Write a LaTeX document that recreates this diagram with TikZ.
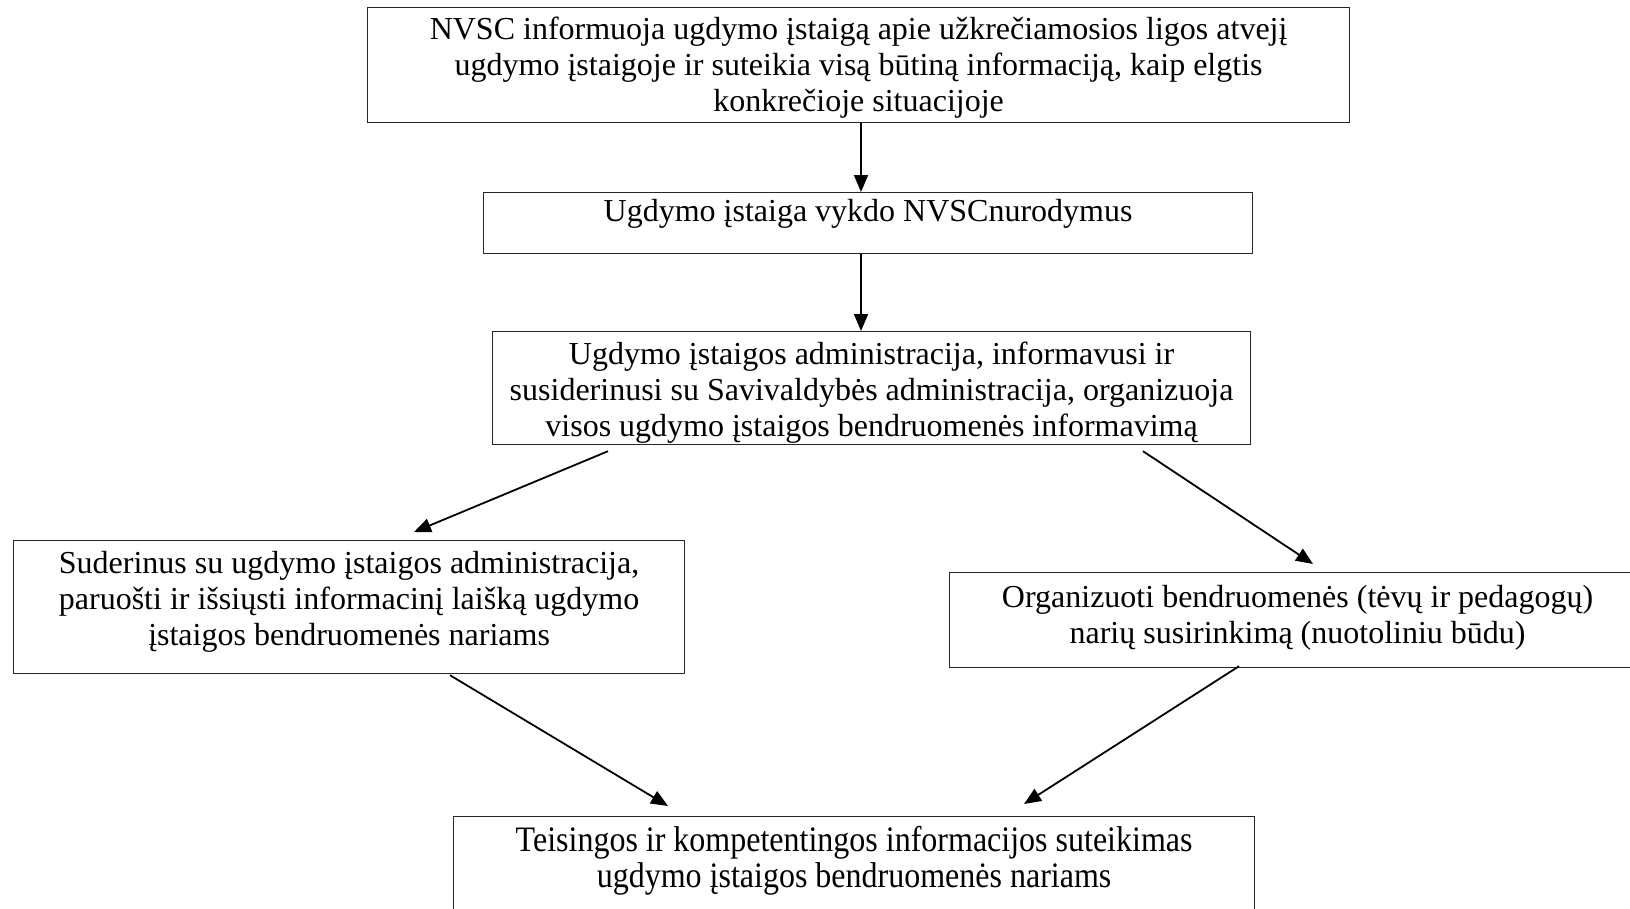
\documentclass[tikz,border=0pt]{standalone}
\usepackage{fontspec}
\usepackage{graphicx}
\setmainfont{Liberation Serif}
\usetikzlibrary{arrows.meta,calc}
\newcommand{\bxt}[4]{\begin{minipage}[c][#2pt][t]{#1pt}\vspace*{#3pt}\centering\strut #4\end{minipage}}
\tikzset{
  box/.style={draw=black!85, line width=1.2pt, inner sep=0pt, anchor=north west, fill=white,
    font=\fontsize{32}{36}\selectfont},
  arr/.style={line width=1.8pt, -{Triangle[length=17pt,width=14pt]}}
}
\begin{document}
\begin{tikzpicture}[x=1pt,y=-1pt]
\useasboundingbox[fill=white] (0,0) rectangle (1630,908);
\node[box] (b1) at (367,7) {\bxt{982}{115}{6.5}{NVSC informuoja ugdymo įstaigą apie užkrečiamosios ligos atvejį\\ ugdymo įstaigoje ir suteikia visą būtiną informaciją, kaip elgtis\\ konkrečioje situacijoje}};
\node[box] (b2) at (483,192) {\bxt{769}{61}{3.5}{Ugdymo įstaiga vykdo NVSCnurodymus}};
\node[box] (b3) at (492,331) {\bxt{758}{113}{7.5}{Ugdymo įstaigos administracija, informavusi ir\\ susiderinusi su Savivaldybės administracija, organizuoja\\ visos ugdymo įstaigos bendruomenės informavimą}};
\node[box] (b4) at (13,540) {\bxt{671}{133}{8}{Suderinus su ugdymo įstaigos administracija,\\ paruošti ir išsiųsti informacinį laišką ugdymo\\ įstaigos bendruomenės nariams}};
\node[box] (b5) at (949,572) {\bxt{696}{95}{9.5}{Organizuoti bendruomenės (tėvų ir pedagogų)\\ narių susirinkimą (nuotoliniu būdu)}};
\node[box] (b6) at (453,816) {\bxt{801}{120}{10}{\scalebox{1}[1.12]{Teisingos ir kompetentingos informacijos suteikimas}\\ \scalebox{1}[1.12]{ugdymo įstaigos bendruomenės nariams}}};
\draw[arr] ($(b1.south west)+(494,0)$) -- ($(b2.north west)+(378,0)$);
\draw[arr] ($(b2.south west)+(378,0)$) -- ($(b3.north west)+(369,0)$);
\draw[arr] ($(b3.south west)+(116,6)$) -- ($(b4.north west)+(401,-8)$);
\draw[arr] ($(b3.south west)+(651,6)$) -- ($(b5.north west)+(364,-8)$);
\draw[arr] ($(b4.south west)+(437,1)$) -- ($(b6.north west)+(215,-10)$);
\draw[arr] ($(b5.south west)+(290,-2)$) -- ($(b6.north west)+(571,-12)$);
\end{tikzpicture}
\end{document}
